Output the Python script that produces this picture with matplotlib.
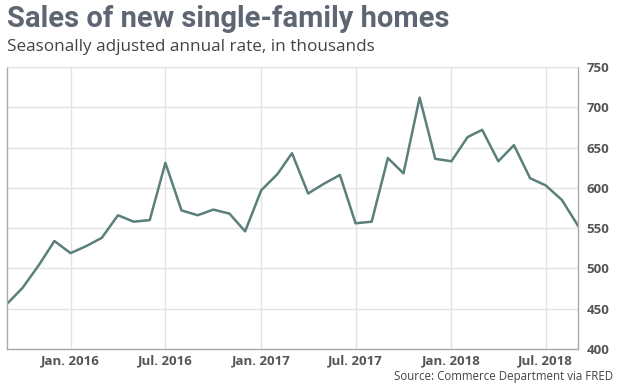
import matplotlib
matplotlib.use("Agg")
import matplotlib.pyplot as plt
import matplotlib.dates as mdates
import pandas as pd

dates = pd.date_range("2015-09-01", "2018-09-01", freq="MS")
sales = [456, 476, 504, 534, 519, 528, 538, 566, 558, 560, 631, 572,
         566, 573, 568, 546, 597, 617, 643, 593, 605, 616, 556, 558,
         637, 618, 712, 636, 633, 663, 672, 633, 653, 612, 603, 585, 553]
xtick_dates = ["2016-01-01", "2016-07-01", "2017-01-01", "2017-07-01", "2018-01-01", "2018-07-01"]
xtick_labels = ["Jan. 2016", "Jul. 2016", "Jan. 2017", "Jul. 2017", "Jan. 2018", "Jul. 2018"]
yticks = [400, 450, 500, 550, 600, 650, 700, 750]

fig = plt.figure(figsize=(6.19, 3.87), dpi=100)
ax = fig.add_axes([0.0113, 0.0982, 0.9225, 0.7287])
ax.plot(dates, sales, color="#5b7f7b", lw=1.8)

ax.set_ylim(400, 750)
ax.set_xlim(dates[0], dates[-1])
ax.set_yticks(yticks)
ax.yaxis.tick_right()
ax.set_xticks(pd.to_datetime(xtick_dates))
ax.set_xticklabels(xtick_labels)
for lab in ax.get_xticklabels() + ax.get_yticklabels():
    lab.set_fontfamily("Open Sans")
    lab.set_fontweight("bold")
    lab.set_color("#555555")
    lab.set_fontsize(9.5)
ax.tick_params(axis="both", length=0, pad=4)
ax.tick_params(axis="y", pad=6)
ax.grid(True, color="#e3e3e3", lw=1)
ax.set_axisbelow(True)
for s in ["left", "right", "bottom"]:
    ax.spines[s].set_color("#aaaaaa")
    ax.spines[s].set_linewidth(1)
ax.spines["top"].set_color("#e3e3e3")

fig.text(0.011, 0.929, "Sales of new single-family homes", fontfamily="Roboto",
         fontweight="bold", fontsize=21, color="#5f6673")
fig.text(0.012, 0.868, "Seasonally adjusted annual rate, in thousands", fontfamily="Open Sans",
         fontsize=12.3, color="#444444")
fig.text(0.99, 0.018, "Source: Commerce Department via FRED", fontfamily="Open Sans",
         fontsize=8.3, color="#444444", ha="right")

fig.savefig("out.png", dpi=100)
